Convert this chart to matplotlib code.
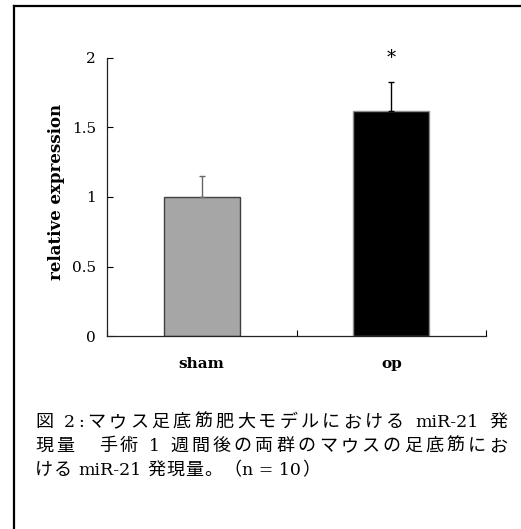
import matplotlib
matplotlib.use("Agg")
import matplotlib.pyplot as plt
from matplotlib.lines import Line2D

# data
categories = ["sham", "op"]
means = [1.0, 1.62]
sems = [0.15, 0.21]
bar_colors = ["#a6a6a6", "#000000"]
edge_colors = ["#404040", "#8c8c8c"]
err_colors = ["#666666", "#000000"]
yticks = [0, 0.5, 1, 1.5, 2]
yticklabels = ["0", "0.5", "1", "1.5", "2"]

caption_line1 = ["図", " ", "2", ":", "マ", "ウ", "ス", "足", "底", "筋", "肥", "大", "モ",
                 "デ", "ル", "に", "お", "け", "る", " ", "miR-21", " ", "発"]
caption_line2 = ["現", "量", "\u3000", "手", "術", " ", "1", " ", "週", "間", "後", "の", "両",
                 "群", "の", "マ", "ウ", "ス", "の", "足", "底", "筋", "に", "お"]
caption_line3 = ["け", "る", " ", "miR-21", " ", "発", "現", "量", "。", "（", "n = 10", "）"]

W, H = 521, 529
serif = "DejaVu Serif"
mixed = ["DejaVu Serif", "Noto Sans CJK JP"]

fig = plt.figure(figsize=(W / 100, H / 100), dpi=100)
fig.patch.set_facecolor("white")

# outer frame (left and top edges visible)
fig.add_artist(Line2D([13.5 / W, 13.5 / W], [0, 1 - 5.5 / H], transform=fig.transFigure,
                      color="black", lw=1.6))
fig.add_artist(Line2D([13.5 / W, 1], [1 - 5.5 / H, 1 - 5.5 / H], transform=fig.transFigure,
                      color="black", lw=1.6))

ax = fig.add_axes([107 / W, (H - 336) / H, (486 - 107) / W, (336 - 58) / H])
x = list(range(len(categories)))
ax.bar(x, means, width=0.4, color=bar_colors, edgecolor=edge_colors, linewidth=1.0, zorder=2)
for xi, m, s, c in zip(x, means, sems, err_colors):
    ax.errorbar(xi, m, yerr=[[0], [s]], fmt="none", ecolor=c, elinewidth=1.0,
                capsize=2, capthick=1.0, zorder=3)
ax.text(1, 2.0, "*", ha="center", va="center", fontsize=13, family=serif, clip_on=False)

ax.set_xlim(-0.5, 1.5)
ax.set_ylim(0, 2)
ax.set_yticks(yticks)
ax.set_yticklabels(yticklabels, family=serif, fontsize=11)
ax.set_xticks(x)
ax.set_xticklabels(categories, family=serif, fontsize=11, fontweight="bold")
ax.set_xticks([-0.5, 0.5, 1.5], minor=True)
ax.tick_params(axis="x", which="major", length=0, pad=15)
ax.tick_params(axis="x", which="minor", direction="in", length=4, width=0.8)
ax.tick_params(axis="y", direction="in", length=4, width=0.8, pad=8)
for side in ["top", "right"]:
    ax.spines[side].set_visible(False)
for side in ["left", "bottom"]:
    ax.spines[side].set_linewidth(0.9)
    ax.spines[side].set_color("#222222")
ax.set_ylabel("relative expression", family=serif, fontsize=12, fontweight="bold")
ax.yaxis.set_label_coords(-0.11, 0.52)

# caption, first two lines justified like the original
renderer = fig.canvas.get_renderer()


def place_line(tokens, y_px, x0=35, x1=None, space=4):
    items = []
    for t in tokens:
        if t == " ":
            items.append((None, space))
            continue
        size = 12.5 if t.isascii() else 13
        txt = fig.text(0, 1 - y_px / H, t, family=mixed, fontsize=size, va="baseline")
        items.append((txt, txt.get_window_extent(renderer).width))
    gap = 1.0
    if x1 is not None:
        gap = (x1 - x0 - sum(w for _, w in items)) / (len(items) - 1)
    pos = x0
    for txt, w in items:
        if txt is not None:
            txt.set_x(pos / W)
        pos += w + gap


place_line(caption_line1, 427, x1=507)
place_line(caption_line2, 451, x1=507)
place_line(caption_line3, 475)

fig.savefig("out.png", dpi=100)
